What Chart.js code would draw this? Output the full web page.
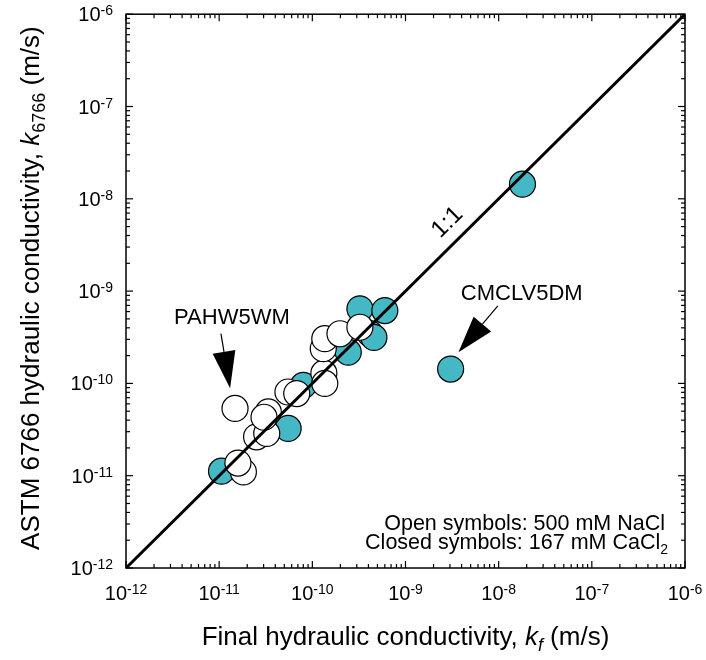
<!DOCTYPE html>
<html>
<head>
<meta charset="utf-8">
<script src="https://cdn.jsdelivr.net/npm/chart.js@4/dist/chart.umd.min.js"></script>
<style>
html,body{margin:0;padding:0;background:#fff;}
#wrap{width:706px;height:660px;}
</style>
</head>
<body>
<div id="wrap"><canvas id="c" width="706" height="660"></canvas></div>
<script>
// ---- data (m/s) ----
// Open symbols: 500 mM NaCl
const openKf    = [1.82e-11, 1.59e-11, 2.52e-11, 3.24e-11, 1.48e-11, 3.37e-11, 3.03e-11, 5.47e-11, 6.8e-11, 1.33e-10, 1.36e-10, 1.31e-10, 1.36e-10, 1.98e-10, 3.24e-10];
const openK6766 = [1.10e-11, 1.37e-11, 2.64e-11, 2.87e-11, 5.35e-11, 4.91e-11, 4.3e-11, 8.07e-11, 7.76e-11, 1.29e-10, 1.0e-10, 2.38e-10, 3.05e-10, 3.45e-10, 4.06e-10];
// Closed symbols: 167 mM CaCl2
const closedKf    = [1.06e-11, 5.5e-11, 8.0e-11, 2.43e-10, 4.15e-10, 4.58e-10, 3.24e-10, 6.0e-10, 1.8e-8, 3.05e-9];
const closedK6766 = [1.12e-11, 3.25e-11, 9.5e-11, 2.18e-10, 3.47e-10, 3.15e-10, 6.43e-10, 6.15e-10, 1.44e-8, 1.43e-10];
// 1:1 line end points
const oneToOne = [1e-12, 1e-6];
// ticks
const majorTicks = [1e-12, 1e-11, 1e-10, 1e-9, 1e-8, 1e-7, 1e-6];
const tickExponents = ['-12', '-11', '-10', '-9', '-8', '-7', '-6'];
const minorMultipliers = [2, 3, 4, 5, 6, 7, 8, 9];
// annotation anchors (data coordinates)
const labelPAHW = {text: 'PAHW5WM', x: 1.37e-11, y: 5.18e-10, from: [1.045e-11, 3.47e-10], to: [1.31e-11, 8.85e-11]};
const labelCMCL = {text: 'CMCLV5DM', x: 1.77e-8, y: 9.4e-10, from: [9.8e-9, 6.9e-10], to: [3.7e-9, 2.17e-10]};
const labelOneToOne = {text: '1:1', x: 2.82e-9, y: 5.56e-9};

const FONT = '"Liberation Sans", Arial, Helvetica, sans-serif';
const TEAL = '#45b8c5';

function toPts(xs, ys){ return xs.map((v,i)=>({x:v, y:ys[i]})); }

function drawRich(ctx, parts, x, y, align){
  let total = 0;
  const widths = parts.map(p=>{ ctx.font = (p.italic?'italic ':'') + p.size + 'px ' + FONT; const w = ctx.measureText(p.t).width; total += w; return w; });
  let cx = align === 'center' ? x - total/2 : (align === 'right' ? x - total : x);
  parts.forEach((p,i)=>{
    ctx.font = (p.italic?'italic ':'') + p.size + 'px ' + FONT;
    ctx.fillText(p.t, cx, y + (p.dy||0));
    cx += widths[i];
  });
}

function drawArrow(ctx, x0, y0, x1, y1, headLen, headW){
  const ang = Math.atan2(y1 - y0, x1 - x0);
  const bx = x1 - headLen*Math.cos(ang), by = y1 - headLen*Math.sin(ang);
  ctx.beginPath(); ctx.moveTo(x0, y0); ctx.lineTo(bx, by); ctx.lineWidth = 1.2; ctx.stroke();
  const nx = -Math.sin(ang), ny = Math.cos(ang);
  ctx.beginPath();
  ctx.moveTo(x1, y1);
  ctx.lineTo(bx + nx*headW/2, by + ny*headW/2);
  ctx.lineTo(bx - nx*headW/2, by - ny*headW/2);
  ctx.closePath(); ctx.fill();
}

const decorations = {
  id: 'decorations',
  afterDraw(chart){
    const {ctx, chartArea:{left, right, top, bottom}, scales:{x, y}} = chart;
    ctx.save();
    ctx.strokeStyle = '#000'; ctx.fillStyle = '#000';
    ctx.lineWidth = 1.5;
    ctx.strokeRect(left, top, right - left, bottom - top);
    const MAJ = 7, MIN = 4;
    ctx.lineWidth = 1.2;
    const seg = (a,b,c,d)=>{ ctx.beginPath(); ctx.moveTo(a,b); ctx.lineTo(c,d); ctx.stroke(); };
    majorTicks.forEach((v, i)=>{
      const px = x.getPixelForValue(v), py = y.getPixelForValue(v);
      seg(px, bottom, px, bottom - MAJ); seg(px, top, px, top + MAJ);
      seg(left, py, left + MAJ, py); seg(right, py, right - MAJ, py);
      if (i < majorTicks.length - 1) {
        minorMultipliers.forEach(m=>{
          const mx = x.getPixelForValue(v*m), my = y.getPixelForValue(v*m);
          seg(mx, bottom, mx, bottom - MIN); seg(mx, top, mx, top + MIN);
          seg(left, my, left + MIN, my); seg(right, my, right - MIN, my);
        });
      }
    });
    ctx.textBaseline = 'alphabetic';
    majorTicks.forEach((v, i)=>{
      const parts = [{t:'10', size:20}, {t:tickExponents[i], size:14, dy:-6}];
      drawRich(ctx, parts, x.getPixelForValue(v), bottom + 32, 'center');
      drawRich(ctx, parts, left - 13, y.getPixelForValue(v) + 7, 'right');
    });
    drawRich(ctx, [
      {t:'Final hydraulic conductivity, ', size:26},
      {t:'k', size:26, italic:true},
      {t:'f', size:18, italic:true, dy:6},
      {t:' (m/s)', size:26}
    ], (left + right)/2, 645, 'center');
    ctx.save();
    ctx.translate(39, (top + bottom)/2 - 3);
    ctx.rotate(-Math.PI/2);
    drawRich(ctx, [
      {t:'ASTM 6766 hydraulic conductivity, ', size:26},
      {t:'k', size:26, italic:true},
      {t:'6766', size:18, dy:6},
      {t:' (m/s)', size:26}
    ], 0, 0, 'center');
    ctx.restore();
    [labelPAHW, labelCMCL].forEach(a=>{
      ctx.font = '22px ' + FONT; ctx.textAlign = 'center'; ctx.textBaseline = 'middle';
      ctx.fillText(a.text, x.getPixelForValue(a.x), y.getPixelForValue(a.y));
      ctx.textAlign = 'left'; ctx.textBaseline = 'alphabetic';
      drawArrow(ctx, x.getPixelForValue(a.from[0]), y.getPixelForValue(a.from[1]),
                x.getPixelForValue(a.to[0]), y.getPixelForValue(a.to[1]), 37, 23);
    });
    const p1x = x.getPixelForValue(oneToOne[0]), p1y = y.getPixelForValue(oneToOne[0]);
    const p2x = x.getPixelForValue(oneToOne[1]), p2y = y.getPixelForValue(oneToOne[1]);
    ctx.save();
    ctx.translate(x.getPixelForValue(labelOneToOne.x), y.getPixelForValue(labelOneToOne.y));
    ctx.rotate(Math.atan2(p2y - p1y, p2x - p1x));
    ctx.font = '24px ' + FONT; ctx.textAlign = 'center'; ctx.textBaseline = 'middle';
    ctx.fillText(labelOneToOne.text, 0, 0);
    ctx.restore();
    ctx.textAlign = 'left'; ctx.textBaseline = 'alphabetic';
    drawRich(ctx, [{t:'Open symbols: 500 mM NaCl', size:21.5}], right - 20, bottom - 38, 'right');
    drawRich(ctx, [{t:'Closed symbols: 167 mM CaCl', size:21.5}, {t:'2', size:14, dy:5}], right - 17, bottom - 19, 'right');
    ctx.restore();
  }
};

new Chart(document.getElementById('c'), {
  type: 'scatter',
  data: {
    datasets: [
      {
        type: 'line', label: '1:1',
        data: oneToOne.map(v=>({x:v, y:v})),
        borderColor: '#000', borderWidth: 3, pointRadius: 0, fill: false, order: 0
      },
      {
        label: 'Open symbols: 500 mM NaCl',
        data: toPts(openKf, openK6766),
        backgroundColor: '#ffffff', borderColor: '#000', borderWidth: 1.2,
        pointRadius: 13, order: 1
      },
      {
        label: 'Closed symbols: 167 mM CaCl2',
        data: toPts(closedKf, closedK6766),
        backgroundColor: TEAL, borderColor: '#000', borderWidth: 1.2,
        pointRadius: 13, order: 2
      }
    ]
  },
  options: {
    responsive: false,
    animation: false,
    devicePixelRatio: 1,
    layout: { padding: { left: 126, top: 13, right: 21, bottom: 92 } },
    plugins: { legend: { display: false }, tooltip: { enabled: false } },
    scales: {
      x: { type: 'logarithmic', min: 1e-12, max: 1e-6, display: false },
      y: { type: 'logarithmic', min: 1e-12, max: 1e-6, display: false }
    }
  },
  plugins: [decorations]
});
</script>
</body>
</html>
